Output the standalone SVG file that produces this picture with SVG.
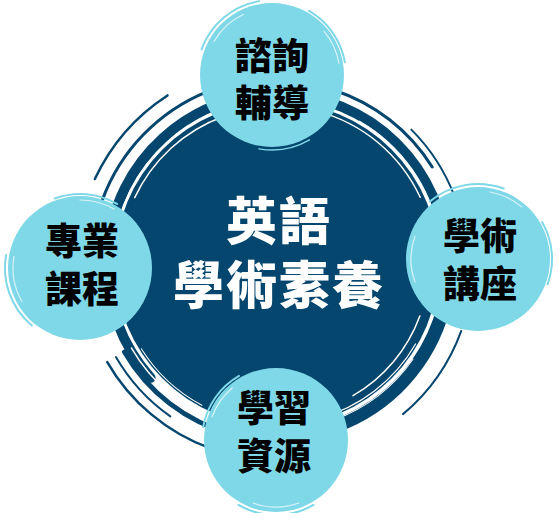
<svg xmlns="http://www.w3.org/2000/svg" width="559" height="513" viewBox="0 0 559 513">
<defs>
<style>
.navy{fill:#05466e}
.cyan{fill:#7fd8e7}
.arc{fill:none;stroke-linecap:round}
.na{stroke:#05466e}
.wa{stroke:#ffffff}
.ca{stroke:#7fd8e7}
.lbl{font-family:"Noto Sans CJK TC","Noto Sans CJK SC",sans-serif;font-weight:900;font-size:37px;fill:#000000;text-anchor:middle}
.ctr{font-family:"Noto Sans CJK TC","Noto Sans CJK SC",sans-serif;font-weight:900;font-size:51px;fill:#ffffff;text-anchor:middle;letter-spacing:2px}
</style>
</defs>
<rect width="559" height="513" fill="#ffffff"/>
<g id="hub" transform="translate(277,264)">
  <circle class="navy" r="162"/>
  <g class="arc na">
    <circle r="170" stroke-width="10" pathLength="360" stroke-dasharray="125 360" transform="rotate(138)"/>
    <circle r="170" stroke-width="10" pathLength="360" stroke-dasharray="85 360" transform="rotate(272)"/>
    <circle r="171" stroke-width="11" pathLength="360" stroke-dasharray="80 360" transform="rotate(0)"/>
    <circle r="176" stroke-width="6" pathLength="360" stroke-dasharray="55 360" transform="rotate(15)"/>
    <circle r="176" stroke-width="5" pathLength="360" stroke-dasharray="45 360" transform="rotate(105)"/>
    <circle r="186" stroke-width="3" pathLength="360" stroke-dasharray="48 360" transform="rotate(200)"/>
    <circle r="201" stroke-width="2.5" pathLength="360" stroke-dasharray="32 360" transform="rotate(205)"/>
    <circle r="183" stroke-width="3" pathLength="360" stroke-dasharray="40 360" transform="rotate(288)"/>
    <circle r="190" stroke-width="2" pathLength="360" stroke-dasharray="24 360" transform="rotate(315)"/>
    <circle r="196" stroke-width="2" pathLength="360" stroke-dasharray="30 360" transform="rotate(20)"/>
    <circle r="196" stroke-width="2.5" pathLength="360" stroke-dasharray="40 360" transform="rotate(110)"/>
    <circle r="186" stroke-width="2" pathLength="360" stroke-dasharray="25 360" transform="rotate(125)"/>
  </g>
  <g class="arc wa">
    <circle r="157" stroke-width="1.5" pathLength="360" stroke-dasharray="45 360" transform="rotate(205)"/>
    <circle r="164" stroke-width="1.2" pathLength="360" stroke-dasharray="45 360" transform="rotate(190)"/>
    <circle r="158" stroke-width="1.5" pathLength="360" stroke-dasharray="50 360" transform="rotate(285)"/>
    <circle r="165" stroke-width="1" pathLength="360" stroke-dasharray="50 360" transform="rotate(300)"/>
    <circle r="152" stroke-width="1.5" pathLength="360" stroke-dasharray="40 360" transform="rotate(20)"/>
    <circle r="160" stroke-width="1.2" pathLength="360" stroke-dasharray="45 360" transform="rotate(30)"/>
    <circle r="166" stroke-width="1" pathLength="360" stroke-dasharray="35 360" transform="rotate(35)"/>
    <circle r="168" stroke-width="1.5" pathLength="360" stroke-dasharray="40 360" transform="rotate(110)"/>
    <circle r="160" stroke-width="1" pathLength="360" stroke-dasharray="30 360" transform="rotate(118)"/>
  </g>
  <text class="ctr"><tspan x="2" y="-24">英語</tspan><tspan x="2" y="40">學術素養</tspan></text>
</g>
<g id="node-top" transform="translate(272,75)">
  <circle class="cyan" r="72"/>
  <g class="arc ca">
    <circle r="75" stroke-width="2" pathLength="360" stroke-dasharray="60 360" transform="rotate(200)"/>
    <circle r="74" stroke-width="2" pathLength="360" stroke-dasharray="50 360" transform="rotate(300)"/>
    <circle r="75" stroke-width="1.5" pathLength="360" stroke-dasharray="40 360" transform="rotate(60)"/>
  </g>
  <g class="arc wa" opacity="0.7">
    <circle r="67" stroke-width="1.2" pathLength="360" stroke-dasharray="35 360" transform="rotate(210)"/>
    <circle r="68" stroke-width="1.2" pathLength="360" stroke-dasharray="30 360" transform="rotate(320)"/>
  </g>
  <text class="lbl"><tspan x="0" y="-5">諮詢</tspan><tspan x="0" y="42">輔導</tspan></text>
</g>
<g id="node-left" transform="translate(80,268)">
  <circle class="cyan" r="72"/>
  <g class="arc ca">
    <circle r="75" stroke-width="2" pathLength="360" stroke-dasharray="60 360" transform="rotate(130)"/>
    <circle r="74" stroke-width="2" pathLength="360" stroke-dasharray="50 360" transform="rotate(250)"/>
  </g>
  <g class="arc wa" opacity="0.7">
    <circle r="67" stroke-width="1.2" pathLength="360" stroke-dasharray="40 360" transform="rotate(150)"/>
    <circle r="68" stroke-width="1.2" pathLength="360" stroke-dasharray="30 360" transform="rotate(270)"/>
  </g>
  <text class="lbl"><tspan x="2" y="-13">專業</tspan><tspan x="2" y="35">課程</tspan></text>
</g>
<g id="node-right" transform="translate(478,259)">
  <circle class="cyan" r="72"/>
  <g class="arc ca">
    <circle r="75" stroke-width="2" pathLength="360" stroke-dasharray="60 360" transform="rotate(230)"/>
    <circle r="74" stroke-width="2" pathLength="360" stroke-dasharray="50 360" transform="rotate(330)"/>
  </g>
  <g class="arc wa" opacity="0.7">
    <circle r="67" stroke-width="1.2" pathLength="360" stroke-dasharray="40 360" transform="rotate(160)"/>
    <circle r="68" stroke-width="1.2" pathLength="360" stroke-dasharray="30 360" transform="rotate(280)"/>
  </g>
  <text class="lbl"><tspan x="2" y="-9">學術</tspan><tspan x="2" y="39">講座</tspan></text>
</g>
<g id="node-bottom" transform="translate(276,440)">
  <circle class="cyan" r="72"/>
  <g class="arc ca">
    <circle r="75" stroke-width="2" pathLength="360" stroke-dasharray="60 360" transform="rotate(60)"/>
    <circle r="74" stroke-width="2" pathLength="360" stroke-dasharray="50 360" transform="rotate(190)"/>
  </g>
  <g class="arc wa" opacity="0.7">
    <circle r="67" stroke-width="1.2" pathLength="360" stroke-dasharray="40 360" transform="rotate(70)"/>
    <circle r="68" stroke-width="1.2" pathLength="360" stroke-dasharray="30 360" transform="rotate(200)"/>
  </g>
  <text class="lbl"><tspan x="-2" y="-18">學習</tspan><tspan x="-2" y="30">資源</tspan></text>
</g>
<g id="connectors"></g>
</svg>
